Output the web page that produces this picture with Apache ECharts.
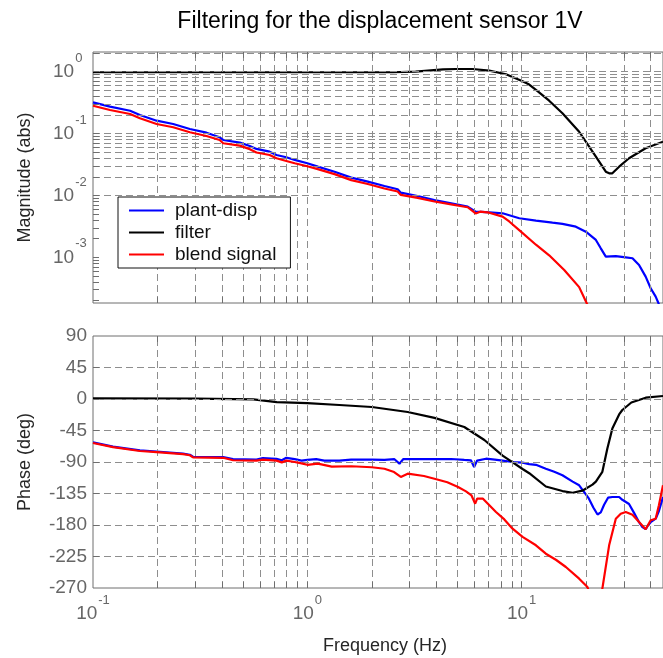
<!DOCTYPE html>
<html><head><meta charset="utf-8">
<script src="https://cdn.jsdelivr.net/npm/echarts@6/dist/echarts.min.js"></script>
<style>html,body{margin:0;padding:0;background:#fff}#c{width:663px;height:658px}</style>
</head><body><div id="c"></div>
<script>
// ---------------- data ----------------
const freqBlueMag = [0.1,0.12,0.149,0.1655,0.198,0.2367,0.283,0.3385,0.39,0.405,0.484,0.539,0.579,0.667,0.718,0.798,0.873,1.0,1.119,1.34,1.603,1.915,2.29,2.64,2.73,3.27,3.92,4.69,5.6,6.1,6.82,8.15,9.75,11.66,13.93,15.5,17.9,19.93,22.2,23.4,24.7,27.5,30.6,32.9,35.3,37.9,40.0,42.2,43.7];
const magBlue = [0.32,0.272,0.234,0.2,0.1616,0.143,0.1186,0.1034,0.0871,0.0788,0.0713,0.063,0.0565,0.051,0.0451,0.0414,0.0375,0.0331,0.0292,0.0242,0.0194,0.0167,0.01425,0.0126,0.0111,0.0098,0.00846,0.00748,0.0066,0.00547,0.0054,0.00515,0.00428,0.00392,0.00363,0.00347,0.00313,0.0026,0.00191,0.0014,0.00103,0.00105,0.001,0.000967,0.000754,0.000488,0.000317,0.000232,0.000175];

const freqFilterMag = [0.1,2.5,3.2,4.3,4.94,5.91,7.06,8.45,10.1,10.85,11.9,13.44,15.5,18.55,22.2,24.7,25.6,26.5,28.5,31.7,37.9,45.66];
const magFilter = [0.98,0.98,1.0,1.09,1.105,1.105,1.04,0.908,0.70,0.62,0.48,0.34,0.213,0.107,0.0424,0.0242,0.0228,0.0228,0.0292,0.0399,0.0579,0.074];

const freqRedMag = [0.1,0.12,0.149,0.1655,0.198,0.2367,0.283,0.3385,0.39,0.405,0.484,0.539,0.579,0.667,0.718,0.798,0.873,1.0,1.119,1.34,1.603,1.915,2.29,2.64,2.73,3.27,3.92,4.69,5.6,6.1,6.4,7.06,8.15,8.75,9.8,11.66,13.44,15.8,18.55,20.3];
const magRed = [0.282,0.2406,0.2073,0.1767,0.143,0.1264,0.105,0.0914,0.0788,0.0697,0.0638,0.056,0.0495,0.0451,0.0399,0.0361,0.0331,0.0296,0.0266,0.0221,0.0177,0.01534,0.01297,0.0116,0.0102,0.00912,0.008,0.00716,0.00645,0.00512,0.00547,0.00527,0.00455,0.0038,0.0027,0.0016,0.00108,0.000625,0.00033,0.00017];

const freqBluePh = [0.1,0.124,0.1655,0.198,0.263,0.283,0.293,0.405,0.45,0.579,0.62,0.718,0.76,0.798,0.873,0.94,1.0,1.1,1.2,1.41,1.6,2.0,2.29,2.55,2.69,2.8,3.27,4.0,4.69,5.4,5.8,6.0,6.2,6.82,7.5,8.15,9.07,10.1,10.85,11.66,12.97,14.2,15.5,17.3,18.55,19.9,20.6,21.6,22.6,23.4,24.25,25.3,26.5,28.5,29.5,31.7,33.5,35.3,36.6,37.9,39,40,42.2,43.7,45.66];
const phBlue = [-62,-68,-73.5,-75,-78,-79.6,-82.5,-83,-86,-86.5,-84.5,-85.5,-87.5,-84,-86,-88,-87,-86,-88,-88,-86.7,-86.5,-87,-86,-92.4,-86,-85.7,-86,-85.7,-87,-87.6,-97,-88,-85.3,-86.5,-88,-90,-91,-93,-94,-99.6,-104,-109,-118,-123.3,-136,-142.4,-155,-165,-162,-151,-141,-140,-140,-144,-150,-163,-176,-183,-186,-180,-176,-171,-160,-140];

const freqFilterPh = [0.1,0.3,0.56,0.72,1.0,1.41,2.0,2.94,3.92,5.4,6.7,8.15,10.1,10.85,12.97,15.5,17.3,19.2,21.4,22.2,23.8,25.1,26.5,28.5,29.5,32.5,37.9,45.66];
const phFilter = [1,0.5,-0.5,-4.5,-6,-8.6,-11.4,-18.6,-27,-40,-58.6,-81,-100,-106,-125,-131.5,-133.9,-131,-122.4,-118,-104,-71,-42,-22,-15.7,-5,1.9,4.3];

const freqRedPh = [0.1,0.124,0.1655,0.198,0.263,0.283,0.293,0.405,0.45,0.579,0.62,0.718,0.76,0.798,0.873,0.94,1.0,1.119,1.3,1.603,2.0,2.29,2.54,2.73,2.94,3.5,3.92,4.5,5.05,5.5,5.83,6.07,6.2,6.6,7.59,8.3,9.07,10.1,11.66,12.97,14.5,16.08,18.55,20.28,21.5,22.8,23.8,25.6,27.5,29,30.6,32.9,35.3,37.9,40,42.2,43.7,45.66];
const phRed = [-62.8,-68.8,-74.3,-75.8,-78.8,-80.4,-83.3,-84,-87.5,-88,-86.5,-88,-90.5,-88,-90,-92,-94,-92.4,-96.5,-96.1,-97.5,-99.6,-104.3,-111.4,-106.7,-110,-113.9,-119,-125.7,-132,-137.6,-149.6,-142.4,-142.4,-161.4,-172,-185.3,-197,-209,-221,-230,-240,-256.7,-268.6,-290,-290,-270.9,-209,-171,-164,-161.4,-165.3,-175.7,-186.1,-173.3,-171,-151.9,-123.3];

const seriesNames = ['plant-disp','filter','blend signal'];
const freqGridValues = [0.2,0.3,0.4,0.5,0.6,0.7,0.8,0.9,1,2,3,4,5,6,7,8,9,10,20,30,40];
const magGridValues = [0.0002,0.0003,0.0004,0.0005,0.0006,0.0007,0.0008,0.0009,0.001,0.002,0.003,0.004,0.005,0.006,0.007,0.008,0.009,0.01,0.02,0.03,0.04,0.05,0.06,0.07,0.08,0.09,0.1,0.2,0.3,0.4,0.5,0.6,0.7,0.8,0.9,1,2];
const phaseGridValues = [45,0,-45,-90,-135,-180,-225];
const phaseTicks = {min:-270, max:90, interval:45};
const freqRange = {min:0.1, max:45.66};
const magRange = {min:0.000183, max:2.08};

// ---------------- chart ----------------
const FF = '"Liberation Sans", Arial, Helvetica, sans-serif';
const FRAME = '#6e6e6e';
const zip = (xs, ys) => xs.map((x, i) => [x, ys[i]]);
const isPow10 = v => Math.abs(Math.log10(v) - Math.round(Math.log10(v))) < 1e-6;
const richPow = {
  b: {fontSize: 19, fontFamily: FF, color: '#666', verticalAlign: 'middle'},
  s: {fontSize: 13, fontFamily: FF, color: '#666', verticalAlign: 'middle', padding: [0, 0, 27, 1]}
};
const powFmt = v => isPow10(v) ? '{b|10}{s|' + Math.round(Math.log10(v)) + '}' : '';
const gridLineStyle = {type: [7, 4], color: '#8e8e8e', width: 1};

function gridSeries(xi, yVals) {
  return {
    type: 'line', xAxisIndex: xi, yAxisIndex: xi, data: [], z: 1, silent: true,
    markLine: {
      silent: true, symbol: ['none', 'none'], animation: false,
      label: {show: false}, lineStyle: gridLineStyle, emphasis: {disabled: true},
      data: freqGridValues.map(v => ({xAxis: v})).concat(yVals.map(v => ({yAxis: v})))
    }
  };
}
// short inward tick marks (length expressed along each axis's own scale)
function tickSeries(xi, yVals, yMin, yMax, yStep, yIsLog) {
  const xStepFactor = Math.pow(10, 0.028);
  const yIn = (v, dir) => yIsLog ? v * Math.pow(10, dir * yStep) : v + dir * yStep;
  const segs = [];
  freqGridValues.forEach(v => {
    segs.push([{coord: [v, yMin]}, {coord: [v, yIn(yMin, 1)]}]);
    segs.push([{coord: [v, yMax]}, {coord: [v, yIn(yMax, -1)]}]);
  });
  yVals.forEach(v => {
    segs.push([{coord: [freqRange.min, v]}, {coord: [freqRange.min * xStepFactor, v]}]);
  });
  return {
    type: 'line', xAxisIndex: xi, yAxisIndex: xi, data: [], z: 2, silent: true,
    markLine: {
      silent: true, symbol: ['none', 'none'], animation: false,
      label: {show: false}, lineStyle: {type: 'solid', color: FRAME, width: 1}, emphasis: {disabled: true},
      data: segs
    }
  };
}
function dataSeries(name, color, xi, data, z) {
  return {
    name, type: 'line', xAxisIndex: xi, yAxisIndex: xi, data, z,
    symbol: 'none', showSymbol: false, clip: true, silent: true,
    lineStyle: {color, width: 2.2}, itemStyle: {color},
    emphasis: {disabled: true}
  };
}

const chart = echarts.init(document.getElementById('c'), null, {renderer: 'canvas'});
chart.setOption({
  animation: false,
  backgroundColor: '#fff',
  graphic: [
    {type: 'text', x: 380, y: 22, style: {text: 'Filtering for the displacement sensor 1V', fontSize: 23, fontFamily: FF, fill: '#000', align: 'center', verticalAlign: 'middle'}},
    {type: 'text', x: 385, y: 646, style: {text: 'Frequency (Hz)', fontSize: 18, fontFamily: FF, fill: '#262626', align: 'center', verticalAlign: 'middle'}}
  ],
  grid: [
    {left: 93, right: -1, top: 52, height: 251, show: true, borderColor: FRAME, borderWidth: 1, backgroundColor: 'transparent', containLabel: false},
    {left: 93, right: -1, top: 336, height: 252, show: true, borderColor: FRAME, borderWidth: 1, backgroundColor: 'transparent', containLabel: false}
  ],
  legend: {
    data: seriesNames.map(n => ({name: n, icon: 'rect'})), orient: 'vertical', left: 118, top: 197,
    itemWidth: 35, itemHeight: 2.2, itemGap: 3,
    padding: [4, 14, 4, 11],
    backgroundColor: '#fff', borderColor: '#111', borderWidth: 1, borderRadius: 0,
    textStyle: {fontSize: 19, fontFamily: FF, color: '#111', padding: [0, 0, 0, 6]},
    selectedMode: false, z: 10
  },
  xAxis: [
    {type: 'log', logBase: 10, gridIndex: 0, min: freqRange.min, max: freqRange.max,
     axisLine: {show: false}, axisTick: {show: false}, axisLabel: {show: false}, splitLine: {show: false}},
    {type: 'log', logBase: 10, gridIndex: 1, min: freqRange.min, max: freqRange.max,
     axisLine: {show: false}, axisTick: {show: false}, splitLine: {show: false},
     axisLabel: {show: true, margin: 6, formatter: powFmt, rich: richPow, showMinLabel: true, showMaxLabel: false}}
  ],
  yAxis: [
    {type: 'log', logBase: 10, gridIndex: 0, min: magRange.min, max: magRange.max,
     name: 'Magnitude (abs)', nameLocation: 'middle', nameRotate: 90, nameGap: 59,
     nameTextStyle: {fontSize: 18, fontFamily: FF, color: '#262626'},
     axisLine: {show: false}, axisTick: {show: false}, splitLine: {show: false},
     axisLabel: {show: true, margin: 40, align: 'left', formatter: powFmt, rich: richPow}},
    {type: 'value', gridIndex: 1, min: phaseTicks.min, max: phaseTicks.max, interval: phaseTicks.interval,
     name: 'Phase (deg)', nameLocation: 'middle', nameRotate: 90, nameGap: 59,
     nameTextStyle: {fontSize: 18, fontFamily: FF, color: '#262626'},
     axisLine: {show: false}, axisTick: {show: false}, splitLine: {show: false},
     axisLabel: {show: true, margin: 6, fontSize: 19, fontFamily: FF, color: '#666'}}
  ],
  series: [
    gridSeries(0, magGridValues),
    gridSeries(1, phaseGridValues),
    tickSeries(0, magGridValues, magRange.min, magRange.max, 0.095, true),
    tickSeries(1, phaseGridValues, phaseTicks.min, phaseTicks.max, 8.5, false),
    dataSeries(seriesNames[0], '#0000ff', 0, zip(freqBlueMag, magBlue), 3),
    dataSeries(seriesNames[1], '#000000', 0, zip(freqFilterMag, magFilter), 4),
    dataSeries(seriesNames[2], '#ff0000', 0, zip(freqRedMag, magRed), 5),
    dataSeries(seriesNames[0], '#0000ff', 1, zip(freqBluePh, phBlue), 3),
    dataSeries(seriesNames[1], '#000000', 1, zip(freqFilterPh, phFilter), 4),
    dataSeries(seriesNames[2], '#ff0000', 1, zip(freqRedPh, phRed), 5)
  ]
});
</script></body></html>
